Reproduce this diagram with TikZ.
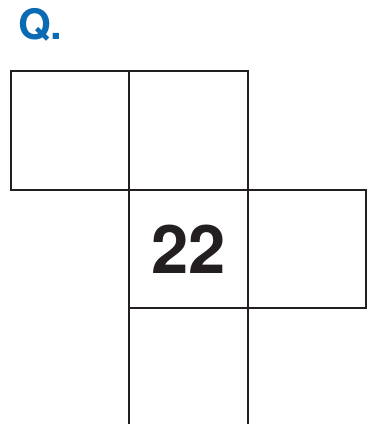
\documentclass[tikz,border=0pt]{standalone}
\usepackage{fontspec}
\setmainfont{TeX Gyre Heros}
\begin{document}
\begin{tikzpicture}[x=1pt,y=-1pt,
  cell/.style={draw=ink, line width=2pt, minimum size=118.5pt, inner sep=0pt, outer sep=0pt},
  edge/.style={draw=ink, line width=2pt}]
\definecolor{ink}{HTML}{231F20}
\definecolor{qblue}{HTML}{0A6AB3}
\useasboundingbox (0,0) rectangle (369,424);
\node[cell] (a) at (70,130.5) {};
\node[cell] (b) at (188.5,130.5) {};
\node[cell, font=\bfseries\fontsize{67}{67}\selectfont, text=ink] (c) at (188.5,249) {22};
\node[cell] (d) at (307,249) {};
\coordinate (e1) at (129.25,424);
\coordinate (e2) at (247.75,424);
\draw[edge] (c.south west) -- (e1);
\draw[edge] (c.south east) -- (e2);
\node[anchor=north west, inner sep=0pt, text=qblue, font=\bfseries\fontsize{42}{42}\selectfont] (q) at (18,8) {Q.};
\end{tikzpicture}
\end{document}
